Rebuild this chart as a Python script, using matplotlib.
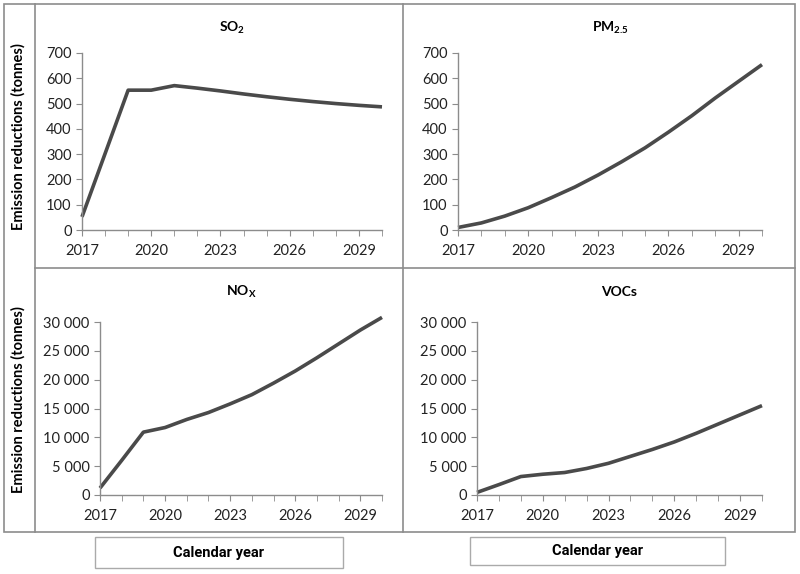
import matplotlib
matplotlib.use("Agg")
from matplotlib import pyplot as plt
from matplotlib.lines import Line2D
from matplotlib.patches import Rectangle
from matplotlib.ticker import FuncFormatter, MultipleLocator

years = list(range(2017, 2031))
so2 = [52, 302, 553, 553, 571, 561, 550, 538, 527, 517, 508, 500, 493, 487]
pm25 = [10, 28, 55, 88, 128, 170, 218, 270, 325, 387, 452, 522, 588, 654]
nox = [1200, 6000, 10900, 11700, 13100, 14300, 15800, 17400, 19400, 21500, 23800, 26200, 28600, 30800]
vocs = [450, 1800, 3200, 3600, 3900, 4600, 5500, 6700, 7900, 9200, 10700, 12300, 13900, 15500]

plt.rcParams['font.family'] = ['Lato', 'DejaVu Sans']
plt.rcParams['mathtext.fontset'] = 'custom'
plt.rcParams['mathtext.rm'] = 'Lato'
plt.rcParams['mathtext.bf'] = 'Lato:bold'

W, H = 800, 574
fig = plt.figure(figsize=(W / 100, H / 100), dpi=100)

def fx(px): return px / W
def fy(py): return 1 - py / H

line_col = '#4a4a4a'
axis_col = '#8c8c8c'
frame_col = '#8c8c8c'

def space_thousands(v, pos):
    return f"{int(v):,}".replace(",", " ")

def panel(left, right, top, bottom, ydata, ymax, ystep, title, title_y):
    ax = fig.add_axes([fx(left), fy(bottom), fx(right) - fx(left), fy(top) - fy(bottom)])
    ax.plot(years, ydata, color=line_col, lw=2.6, solid_capstyle='butt', clip_on=False)
    ax.set_xlim(2017, 2030)
    ax.set_ylim(0, ymax)
    ax.yaxis.set_major_locator(MultipleLocator(ystep))
    ax.yaxis.set_major_formatter(FuncFormatter(space_thousands))
    ax.set_xticks([2017, 2020, 2023, 2026, 2029])
    ax.set_xticks(years, minor=True)
    for s in ['top', 'right']:
        ax.spines[s].set_visible(False)
    for s in ['left', 'bottom']:
        ax.spines[s].set_color(axis_col)
        ax.spines[s].set_linewidth(1.0)
    ax.tick_params(axis='both', which='both', direction='out', color=axis_col,
                   length=4, labelsize=10.5, labelcolor='#222222')
    ax.tick_params(axis='x', which='major', pad=6)
    ax.patch.set_alpha(0)
    fig.text(fx((left + right) / 2 + 0), fy(title_y), title, ha='center', va='center',
             fontsize=10, fontweight='bold')
    return ax

panel(82, 382, 53, 230, so2, 700, 100, r'SO$_\mathbf{2}$', 28)
panel(458, 762, 53, 230, pm25, 700, 100, r'PM$_\mathbf{2.5}$', 28)
panel(100, 382, 322, 495, nox, 30000, 5000, r'NO$_\mathbf{X}$', 292)
panel(477, 762, 322, 495, vocs, 30000, 5000, 'VOCs', 292)

# outer frame and dividers
fig.patches.append(Rectangle((fx(4), fy(532)), fx(795) - fx(4), fy(4) - fy(532),
                             transform=fig.transFigure, fill=False, ec=frame_col, lw=1.2))
for x0, y0, x1, y1 in [(35, 4, 35, 532), (403, 4, 403, 532), (35, 268, 795, 268)]:
    fig.lines.append(Line2D([fx(x0), fx(x1)], [fy(y0), fy(y1)], transform=fig.transFigure,
                            color=frame_col, lw=1.2))

# y labels
for yc in [137, 400]:
    fig.text(fx(18), fy(yc), 'Emission reductions (tonnes)', rotation=90, ha='center',
             va='center', fontsize=10.5, fontweight='bold')

# calendar year boxes
for l, r, t, b in [(95, 343, 537, 568), (470, 725, 537, 565)]:
    fig.patches.append(Rectangle((fx(l), fy(b)), fx(r) - fx(l), fy(t) - fy(b),
                                 transform=fig.transFigure, fill=False, ec='#aaaaaa', lw=1.0))
    fig.text(fx((l + r) / 2), fy((t + b) / 2), 'Calendar year', ha='center', va='center',
             fontsize=10.5, fontweight='bold', family=['Roboto', 'DejaVu Sans'])

fig.savefig('out.png', dpi=100)
